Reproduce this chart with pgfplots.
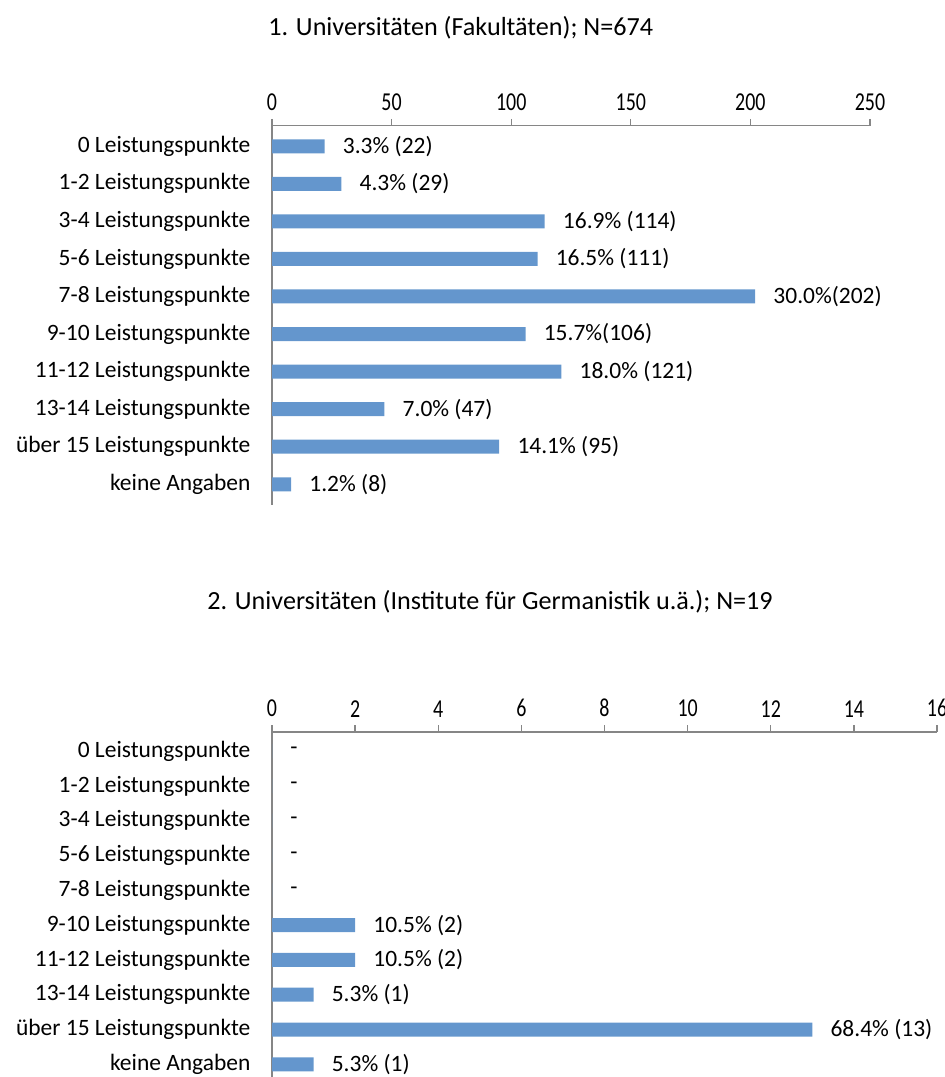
\documentclass[border=0pt]{standalone}
\usepackage{pgfplots}
\pgfplotsset{compat=1.18}
\usepackage{graphicx}
\usepackage{fontspec}
\setmainfont{Carlito}
\definecolor{barblue}{RGB}{100,150,205}
\definecolor{axgray}{RGB}{134,134,134}
\newcommand{\lblfont}{\fontsize{17.6}{20}\selectfont}
\newcommand{\ttlfont}{\fontsize{19.6}{22}\selectfont}
\pgfplotsset{
  mybar/.style={
    scale only axis, anchor=north west, xbar, bar width=10.5pt,
    axis x line=top, axis y line=left,
    axis line style={axgray, line width=1pt, -},
    xtick align=outside, major tick length=5pt,
    xtick style={axgray, line width=1pt},
    ytick style={draw=none},
    ymin=-0.55, ymax=9.55, ytick={0,...,9},
    yticklabels={keine Angaben, über 15 Leistungspunkte, 13-14 Leistungspunkte, 11-12 Leistungspunkte, 9-10 Leistungspunkte, 7-8 Leistungspunkte, 5-6 Leistungspunkte, 3-4 Leistungspunkte, 1-2 Leistungspunkte, 0 Leistungspunkte},
    yticklabel style={anchor=east, inner sep=0pt, font=\lblfont, xshift=-13.5pt},
    xticklabel style={anchor=south, inner sep=0pt, font=\lblfont, yshift=6pt},
    xticklabel={\scalebox{0.85}[1.1]{\pgfmathprintnumber{\tick}}},
    /pgf/number format/assume math mode=true,
    nodes near coords, point meta=explicit symbolic,
    nodes near coords style={anchor=west, inner sep=0pt, xshift=13.5pt, font=\lblfont, text=black},
    clip=false,
  }
}
\begin{document}
\begin{tikzpicture}
\path[use as bounding box] (0pt,0pt) rectangle (708.75pt,-807.75pt);
\node[font=\ttlfont, anchor=west, inner sep=0pt] at (201pt,-21pt) {1. Universitäten (Fakultäten); N=674};
\begin{axis}[mybar, at={(204pt,-94.2pt)}, width=448.5pt, height=284.5pt,
  xmin=0, xmax=250, xtick={0,50,...,250}]
\addplot[fill=barblue, draw=none] coordinates {
(22,9) [3.3\% (22)]
(29,8) [4.3\% (29)]
(114,7) [16.9\% (114)]
(111,6) [16.5\% (111)]
(202,5) [30.0\%(202)]
(106,4) [15.7\%(106)]
(121,3) [18.0\% (121)]
(47,2) [7.0\% (47)]
(95,1) [14.1\% (95)]
(8,0) [1.2\% (8)]
};
\end{axis}
\node[font=\ttlfont, anchor=west, inner sep=0pt] at (155.25pt,-451.5pt) {2. Universitäten (Institute für Germanistik u.ä.); N=19};
\begin{axis}[mybar, at={(204pt,-549pt)}, width=498.75pt, height=263.6pt,
  xmin=0, xmax=16, xtick={0,2,...,16}]
\addplot[fill=barblue, draw=none] coordinates {
(0,9) [-]
(0,8) [-]
(0,7) [-]
(0,6) [-]
(0,5) [-]
(2,4) [10.5\% (2)]
(2,3) [10.5\% (2)]
(1,2) [5.3\% (1)]
(13,1) [68.4\% (13)]
(1,0) [5.3\% (1)]
};
\end{axis}
\end{tikzpicture}
\end{document}
